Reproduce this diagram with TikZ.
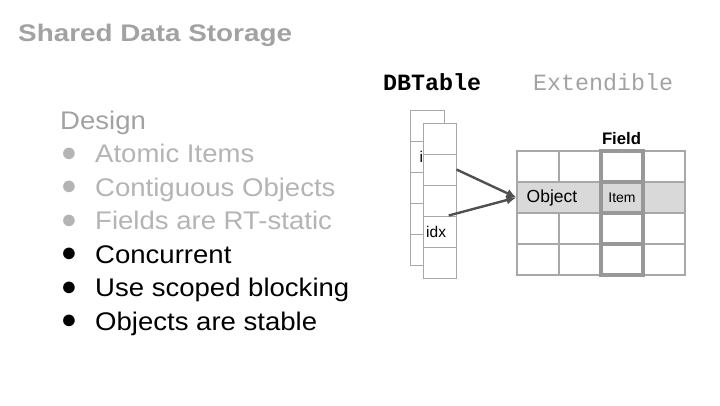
\documentclass[tikz,border=0pt]{standalone}
\usepackage{fontspec}
\setmainfont{Liberation Sans}
\setmonofont{Liberation Mono}
\newfontfamily\slidefont[FakeStretch=1.08]{Liberation Sans}
\newfontfamily\headfont[FakeStretch=1.16]{Liberation Sans}
\usetikzlibrary{arrows.meta,positioning}
\definecolor{HeadGray}{RGB}{162,162,162}
\definecolor{DoneGray}{RGB}{180,180,180}
\definecolor{LineGray}{RGB}{168,168,168}
\definecolor{FieldGray}{RGB}{152,152,152}
\definecolor{RowGray}{RGB}{217,217,217}
\definecolor{ArrowGray}{RGB}{80,80,80}

\begin{document}
\begin{tikzpicture}[x=1pt,y=-1pt,
  >=Latex,
  line/.style={anchor=base west,inner sep=0pt,font=\slidefont\fontsize{25.5}{30}\selectfont},
  dot/.style={inner sep=0pt,font=\fontsize{27}{27}\selectfont},
  cell/.style={draw=LineGray,line width=1.2pt,minimum width=42pt,minimum height=31pt,inner sep=0pt},
  slot/.style={draw=LineGray,line width=1pt,fill=white,minimum height=31pt,inner sep=0pt},
  fcell/.style={draw=FieldGray,line width=4pt,minimum width=42pt,minimum height=31pt,inner sep=0pt},
  ptr/.style={-{Latex[length=10pt,width=9pt]},draw=ArrowGray,line width=2.4pt}]
  \useasboundingbox (0,0) rectangle (720,405);
  \node[anchor=base west,inner sep=0pt,text=HeadGray,font=\headfont\bfseries\fontsize{24}{28}\selectfont] (title) at (18,41) {Shared Data Storage};
  % design notes
  \node[line,text=HeadGray] (design) at (60,129) {Design};
  \foreach \i/\t/\c in {1/Atomic Items/DoneGray,2/Contiguous Objects/DoneGray,3/Fields are RT-static/DoneGray,
      4/Concurrent/black,5/Use scoped blocking/black,6/Objects are stable/black}{
    \node[line,text=\c] (item\i) at (95,{129+33.5*\i}) {\t};
    \node[dot,text=\c] (dot\i) at (69,{121+33.5*\i}) {●};
  }
  % table headers
  \node[anchor=base west,inner sep=0pt,font=\ttfamily\bfseries\fontsize{23.3}{28}\selectfont] (dbt) at (383,90) {DBTable};
  \node[anchor=base west,inner sep=0pt,text=HeadGray,font=\ttfamily\fontsize{23.3}{28}\selectfont] (ext) at (533,90) {Extendible};
  % DBTable stack
  \foreach \r in {0,...,4}
    \node[slot,minimum width=34pt] (b\r) at (427,{125.5+31*\r}) {};
  \node[anchor=west,inner sep=2pt,font=\fontsize{15.5}{17}\selectfont] (bidx) at (417.5,156.5) {idx};
  \foreach \r in {0,...,4}
    \node[slot,minimum width=33pt] (s\r) at (439.5,{138.5+31*\r}) {};
  \node[anchor=west,inner sep=2pt,font=\fontsize{15.5}{17}\selectfont] (fidx) at (424,232) {idx};
  % Extendible grid
  \foreach \r in {0,...,3}
    \foreach \c in {0,...,3}
      \node[cell] (g\r\c) at ({538+42*\c},{166.5+31*\r}) {};
  \node[cell,fill=RowGray,minimum width=168pt] (obj) at (601,197.5) {};
  \foreach \r in {0,...,3}
    \node[fcell] (k\r) at (622,{166.5+31*\r}) {};
  \node[fcell,fill=RowGray] at (k1) {};
  \node[font=\fontsize{17.5}{20}\selectfont] (objlbl) at (552,197.5) {Object};
  \node[font=\fontsize{14}{16}\selectfont] (itemlbl) at (k1) {Item};
  \node[anchor=base,inner sep=0pt,font=\bfseries\fontsize{16.7}{18}\selectfont] (field) at (621.5,144.5) {Field};
  % pointers
  \draw[ptr] (s1.east) -- (obj.west);
  \draw[ptr] (s3.60) -- (obj.west);
\end{tikzpicture}
\end{document}
